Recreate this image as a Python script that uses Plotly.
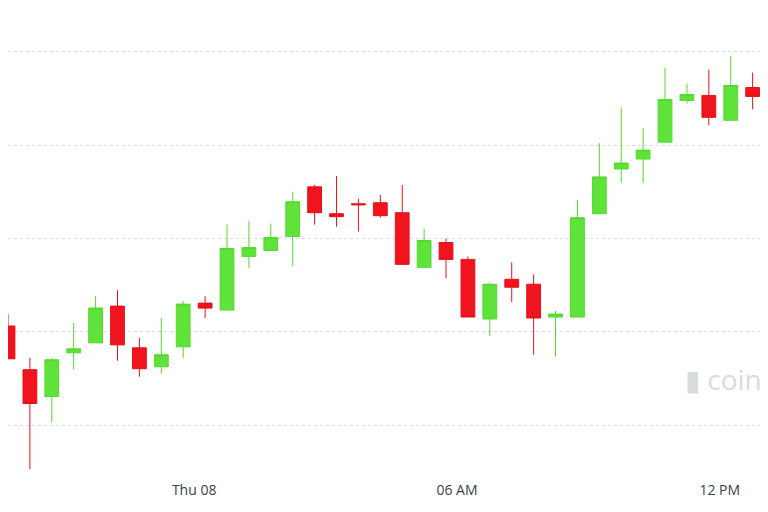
import plotly.graph_objects as go
import pandas as pd

# 30-minute candles, starting Wed 07 19:45
times = pd.date_range("2020-10-07 19:45", periods=35, freq="30min")
opens = [152, 108, 81, 125, 135, 172, 130, 111, 131, 175, 168, 222, 228, 242, 292, 265, 275, 276,
         266, 211, 236, 219, 159, 199, 194, 161, 161, 265, 310, 320, 337, 379, 384, 359, 392]
highs = [164, 120, 120, 155, 182, 188, 140, 160, 177, 182, 254, 258, 255, 287, 294, 303, 280, 284,
         294, 250, 240, 222, 196, 216, 204, 167, 279, 336, 372, 351, 412, 396, 410, 424, 407]
lows = [119, 8, 55, 108, 135, 117, 101, 104, 120, 160, 168, 210, 228, 212, 254, 252, 247, 261,
        214, 211, 200, 161, 142, 176, 123, 121, 161, 265, 296, 296, 337, 376, 354, 359, 370]
closes = [119, 74, 118, 129, 170, 133, 109, 123, 174, 170, 230, 231, 241, 277, 266, 262, 274, 263,
          214, 238, 219, 161, 194, 191, 160, 164, 261, 302, 316, 329, 380, 385, 362, 394, 383]
grid_vals = [52, 146, 240, 334, 428]

fig = go.Figure(go.Candlestick(
    x=times, open=opens, high=highs, low=lows, close=closes,
    increasing=dict(line=dict(color="#55d82f", width=1), fillcolor="#5fe33a"),
    decreasing=dict(line=dict(color="#e8111c", width=1), fillcolor="#f0141e"),
    whiskerwidth=0,
))

fig.update_layout(
    width=768, height=512,
    margin=dict(l=0, r=0, t=0, b=40),
    paper_bgcolor="white", plot_bgcolor="white",
    showlegend=False,
    boxgap=0.1,
    xaxis=dict(
        rangeslider=dict(visible=False),
        range=["2020-10-07 19:45", "2020-10-08 13:17"],
        tickvals=["2020-10-08 00:00", "2020-10-08 06:00", "2020-10-08 12:00"],
        ticktext=["Thu 08", "06 AM", "12 PM"],
        showgrid=False, zeroline=False, ticks="",
        tickfont=dict(family="Open Sans", size=14, color="#3a3f4a"),
    ),
    yaxis=dict(
        range=[-3, 472], tickvals=grid_vals, showticklabels=False,
        showgrid=True, gridcolor="#d3dde8", griddash="dot", gridwidth=1, zeroline=False,
    ),
    annotations=[dict(
        text="▮ coin", xref="paper", yref="paper", x=0.985, y=0.17, xanchor="right",
        showarrow=False, font=dict(family="Open Sans", size=28, color="#d9dbde"),
    )],
)

fig.write_html("out.html")
